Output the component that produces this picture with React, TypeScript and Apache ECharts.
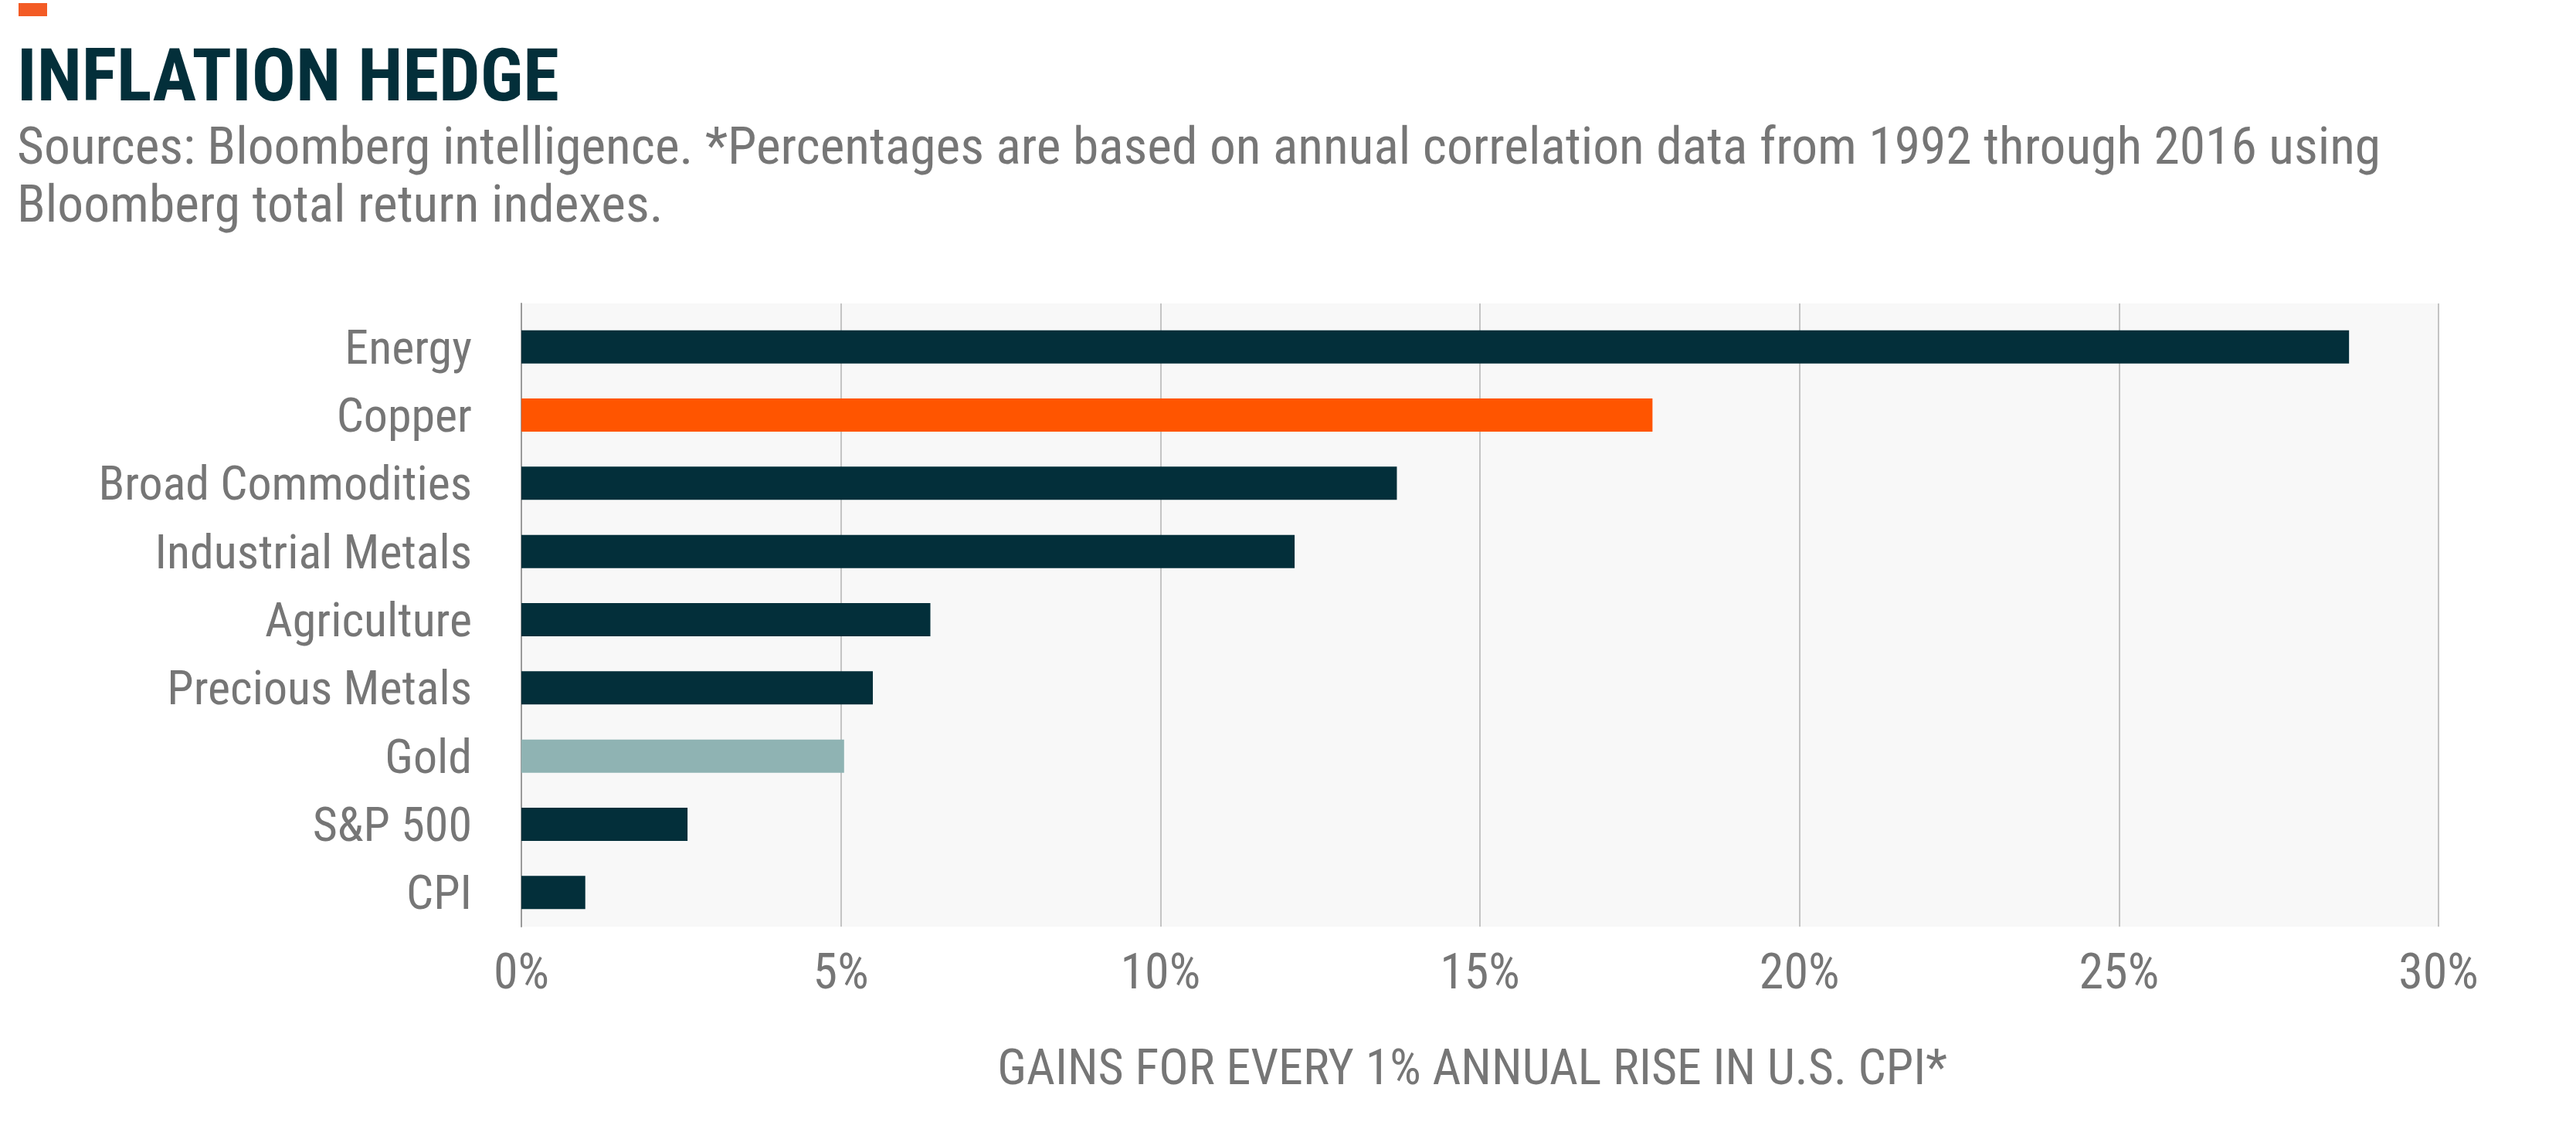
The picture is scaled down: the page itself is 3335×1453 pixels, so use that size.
import React, { useEffect, useRef } from "react";
import * as echarts from "echarts";

const categories = [
  "Energy",
  "Copper",
  "Broad Commodities",
  "Industrial Metals",
  "Agriculture",
  "Precious Metals",
  "Gold",
  "S&P 500",
  "CPI",
];
const values = [28.6, 17.7, 13.7, 12.1, 6.4, 5.5, 5.05, 2.6, 1.0];
const xTicks = [0, 5, 10, 15, 20, 25, 30];

const titleText = "INFLATION HEDGE";
const subtitleLines = [
  "Sources: Bloomberg intelligence. *Percentages are based on annual correlation data from 1992 through 2016 using",
  "Bloomberg total return indexes.",
];
const axisTitle = "GAINS FOR EVERY 1% ANNUAL RISE IN U.S. CPI*";

const FONT = "'Liberation Sans Narrow', 'Roboto Condensed', 'Liberation Sans', Roboto, sans-serif";
const DARK = "#032f3a";
const GRAY = "#767676";
const highlight: Record<string, string> = { Copper: "#ff5500", Gold: "#8fb3b3" };

export default function App() {
  const ref = useRef<HTMLDivElement>(null);
  useEffect(() => {
    if (!ref.current) return;
    const chart = echarts.init(ref.current, undefined, { renderer: "svg" });
    const xMin = xTicks[0];
    const xMax = xTicks[xTicks.length - 1];
    const step = xTicks[1] - xTicks[0];
    chart.setOption({
      animation: false,
      backgroundColor: "#ffffff",
      grid: [
        { left: 675, right: 178, top: 405, bottom: 253, containLabel: false },
        {
          left: 675,
          right: 178,
          top: 393,
          bottom: 253,
          show: true,
          backgroundColor: "#f8f8f8",
          borderWidth: 0,
          containLabel: false,
        },
      ],
      xAxis: [
        { gridIndex: 0, type: "value", min: xMin, max: xMax, interval: step, show: false },
        {
          gridIndex: 1,
          type: "value",
          min: xMin,
          max: xMax,
          interval: step,
          axisLine: { show: false },
          axisTick: { show: false },
          splitLine: { show: true, lineStyle: { color: "#c4c4c4", width: 2 } },
          axisLabel: {
            formatter: "{value}%",
            fontSize: 64,
            color: GRAY,
            margin: 26,
            fontFamily: FONT,
          },
          name: axisTitle,
          nameLocation: "middle",
          nameGap: 150,
          nameTextStyle: { fontSize: 64, color: GRAY, fontFamily: FONT, padding: [0, 20, 0, 0] },
        },
      ],
      yAxis: [
        {
          gridIndex: 0,
          type: "category",
          data: categories,
          inverse: true,
          axisLine: { show: false },
          axisTick: { show: false },
          splitLine: { show: false },
          axisLabel: { fontSize: 62, color: GRAY, margin: 64, fontFamily: FONT },
        },
        {
          gridIndex: 1,
          type: "value",
          min: 0,
          max: 1,
          axisLine: { show: true, lineStyle: { color: "#9a9a9a", width: 2 } },
          axisTick: { show: false },
          axisLabel: { show: false },
          splitLine: { show: false },
        },
      ],
      series: [
        {
          type: "bar",
          xAxisIndex: 0,
          yAxisIndex: 0,
          barWidth: 43,
          z: 3,
          data: values.map((v, i) => ({
            value: v,
            itemStyle: { color: highlight[categories[i]] ?? DARK },
          })),
        },
      ],
      graphic: [
        { type: "rect", shape: { x: 24, y: 4, width: 37, height: 17 }, style: { fill: "#f35b25" } },
        {
          type: "text",
          x: 22,
          y: 97,
          style: {
            text: titleText,
            fontSize: 95,
            fontWeight: "bold",
            fontFamily: FONT,
            fill: DARK,
            verticalAlign: "middle",
          },
        },
        ...subtitleLines.map((t, i) => ({
          type: "text",
          x: 22,
          y: 188 + i * 75,
          style: {
            text: t,
            fontSize: 67.5,
            fontFamily: FONT,
            fill: GRAY,
            verticalAlign: "middle",
          },
        })),
      ],
    });
    return () => chart.dispose();
  }, []);
  return (
    <div
      ref={ref}
      style={{ position: "absolute", left: 0, top: 0, width: 3335, height: 1453 }}
    />
  );
}
